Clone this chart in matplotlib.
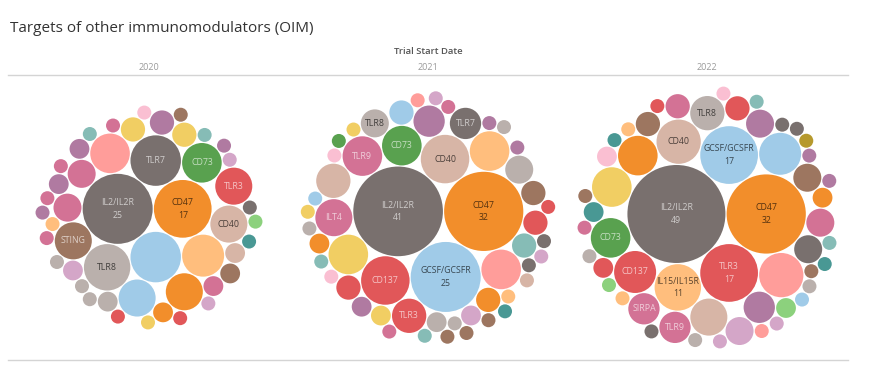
import matplotlib
matplotlib.use("Agg")
import matplotlib.pyplot as plt
from matplotlib.patches import Circle
from matplotlib.colors import to_rgb
import numpy as np

plt.rcParams["font.family"] = ["Open Sans", "DejaVu Sans"]

# ---- data: trial counts per target, one bubble each ("" = label not shown) ----
years = ["2020", "2021", "2022"]

names_2020 = ["IL2/IL2R", "CD47", "", "TLR7", "TLR8", "", "", "CD73", "CD40", "TLR3",
              "", "", "STING", "", "", "", "", "", "", "", "", "", "", "", "", ""] + [""] * 22
values_2020 = [25, 17, 13, 13, 11, 9, 8, 8, 7, 7,
               7, 7, 7, 4, 4, 3, 3, 3, 2, 2, 2, 2, 2, 2, 2, 2] + [1] * 22

names_2021 = ["IL2/IL2R", "CD47", "GCSF/GCSFR", "CD40", "CD137", "", "CD73", "", "", "TLR9",
              "ILT4", "TLR3", "", "", "TLR7", "TLR8", "", "", "", "", "", "", "", "", "",
              "", "", ""] + [""] * 27
values_2021 = [41, 32, 25, 12, 12, 8, 8, 8, 8, 8,
               7, 6, 6, 5, 5, 4, 4, 3, 3, 3, 3, 3, 3, 2, 2,
               2, 2, 2] + [1] * 27

names_2022 = ["IL2/IL2R", "CD47", "TLR3", "GCSF/GCSFR", "IL15/IL15R", "CD40", "", "", "CD137", "",
              "CD73", "", "", "TLR8", "", "SIRPA", "TLR9", "", "", "", "", "", "", "", "",
              "", "", "", "", ""] + [""] * 25
values_2022 = [49, 32, 17, 17, 11, 10, 10, 9, 9, 8,
               8, 8, 7, 6, 5, 5, 5, 4, 4, 4, 4, 4, 3, 3, 3,
               2, 2, 2, 2, 2] + [1] * 25

# targets whose label also shows the count
counted = {"2020": ["IL2/IL2R", "CD47"],
           "2021": ["IL2/IL2R", "CD47", "GCSF/GCSFR"],
           "2022": ["IL2/IL2R", "CD47", "TLR3", "GCSF/GCSFR", "IL15/IL15R"]}

# ---- styles ----
palette = {"gy": "#79706E", "lgy": "#BAB0AC", "or": "#F28E2B", "lo": "#FFBE7D",
           "lb": "#A0CBE8", "gr": "#59A14F", "lg": "#8CD17D", "ye": "#F1CE63",
           "ol": "#B6992D", "te": "#499894", "lt": "#86BCB6", "re": "#E15759",
           "pk": "#FF9D9A", "mg": "#D37295", "lpk": "#FABFD2", "pu": "#B07AA1",
           "lpu": "#D4A6C8", "br": "#9D7660", "tan": "#D7B5A6"}

colors_2020 = ["gy", "or", "lb", "gy", "lgy", "lo", "pk", "gr", "tan", "re",
               "or", "lb", "br", "mg", "mg", "ye", "ye", "pu", "tan", "mg", "br", "or", "lgy", "lpu", "pu", "pu",
               "lgy", "lo", "lpu", "lt", "mg", "gy", "te", "pu", "lt", "mg", "lpk", "lgy", "lgy", "mg", "mg",
               "re", "lpu", "ye", "re", "lg", "br", "pu"]
colors_2021 = ["gy", "or", "lb", "tan", "re", "pk", "gr", "lo", "ye", "mg",
               "mg", "re", "tan", "pu", "gy", "lgy", "lgy", "lb", "lt", "or", "br", "re", "re", "lgy", "lpu",
               "ye", "pu", "or",
               "lgy", "gy", "lo", "lpk", "lpk", "mg", "pu", "pu", "lb", "ye", "lt", "gr", "pk", "lgy", "ye",
               "lpu", "lgy", "tan", "lt", "gy", "br", "mg", "lpu", "br", "re", "te", "br"]
colors_2022 = ["gy", "or", "re", "lb", "lo", "tan", "pk", "lb", "re", "or",
               "gr", "ye", "tan", "lgy", "pu", "mg", "mg", "gy", "br", "pu", "mg", "lpu", "br", "re", "mg",
               "te", "re", "or", "lpk", "lg",
               "br", "lo", "lg", "lo", "pu", "gy", "te", "lgy", "lgy", "lpu", "mg", "lgy", "re", "br", "pk",
               "lb", "gy", "lt", "lpu", "te", "ol", "pu", "gy", "lpk", "lt"]

panels = [(names_2020, values_2020, colors_2020),
          (names_2021, values_2021, colors_2021),
          (names_2022, values_2022, colors_2022)]

PX_PER_SQRT = 7.0   # bubble radius (px) per sqrt(count)
PAD = 1.2


def pack(radii):
    """Greedy circle packing: each circle goes to the free tangent spot nearest the centroid."""
    n = len(radii)
    pos = np.zeros((n, 2))
    if n > 1:
        pos[1] = [radii[0] + radii[1] + PAD, 0]
    for i in range(2, n):
        r = radii[i]
        P, R = pos[:i], radii[:i] + r + PAD
        a, b = np.triu_indices(i, 1)
        d = np.linalg.norm(P[b] - P[a], axis=1)
        ok = (d < R[a] + R[b]) & (d > 1e-9)
        a, b, d = a[ok], b[ok], d[ok]
        l = (R[a] ** 2 - R[b] ** 2 + d ** 2) / (2 * d)
        h = np.sqrt(np.maximum(R[a] ** 2 - l ** 2, 0))
        u = (P[b] - P[a]) / d[:, None]
        v = np.stack([-u[:, 1], u[:, 0]], axis=1)
        base = P[a] + u * l[:, None]
        cand = np.vstack([base + v * h[:, None], base - v * h[:, None]])
        dist = np.linalg.norm(cand[:, None, :] - P[None, :, :], axis=2)
        free = np.all(dist >= R[None, :] - 1e-6, axis=1)
        w = radii[:i] ** 2
        centre = (P * w[:, None]).sum(0) / w.sum()
        cand = cand[free]
        pos[i] = cand[np.argmin(np.linalg.norm(cand - centre, axis=1))]
    pos[:, 1] *= -1   # big followers end up below the leading pair, as in Tableau
    return pos


def text_color(c):
    rgb = np.array(to_rgb(c))
    lum = 0.299 * rgb[0] + 0.587 * rgb[1] + 0.114 * rgb[2]
    if lum < 0.62:
        return tuple(rgb + (1 - rgb) * 0.65)
    return tuple(rgb * 0.35)


W, H = 885, 392
fig = plt.figure(figsize=(W / 100, H / 100), dpi=100)

fig.text(10 / W, 1 - 28 / H, "Targets of other immunomodulators (OIM)",
         fontsize=11, color="#333333", va="center", ha="left")
fig.text(428 / W, 1 - 52 / H, "Trial Start Date", fontsize=6.8, color="#555555",
         fontweight="semibold", va="center", ha="center")
for y_line in (75, 360):
    fig.add_artist(plt.Line2D([8 / W, 848 / W], [1 - y_line / H] * 2,
                              color="#d4d4d4", lw=1.0))

panel_w, top, bottom = 279, 75, 360
for k, (year, (names, values, cols)) in enumerate(zip(years, panels)):
    cx = 149 + k * panel_w
    fig.text(cx / W, 1 - 67 / H, year, fontsize=6.5, color="#9a9a9a",
             va="center", ha="center")
    ax = fig.add_axes([(cx - panel_w / 2) / W, (H - bottom) / H,
                       panel_w / W, (bottom - top) / H])
    ax.set_xlim(-panel_w / 2, panel_w / 2)
    ax.set_ylim(-(bottom - top) / 2, (bottom - top) / 2)
    ax.set_aspect("equal")
    ax.axis("off")

    radii = PX_PER_SQRT * np.sqrt(np.array(values, dtype=float))
    xy = pack(radii)
    lo = (xy - radii[:, None]).min(0)
    hi = (xy + radii[:, None]).max(0)
    xy -= (lo + hi) / 2

    for (x, y), r, name, v, c in zip(xy, radii, names, values, cols):
        fc = palette[c]
        ax.add_patch(Circle((x, y), r, facecolor=fc, edgecolor="none"))
        if name:
            label = f"{name}\n{v}" if name in counted[year] else name
            ax.text(x, y, label, ha="center", va="center", fontsize=6.3,
                    color=text_color(fc), linespacing=1.5)

fig.savefig("out.png", dpi=100)
